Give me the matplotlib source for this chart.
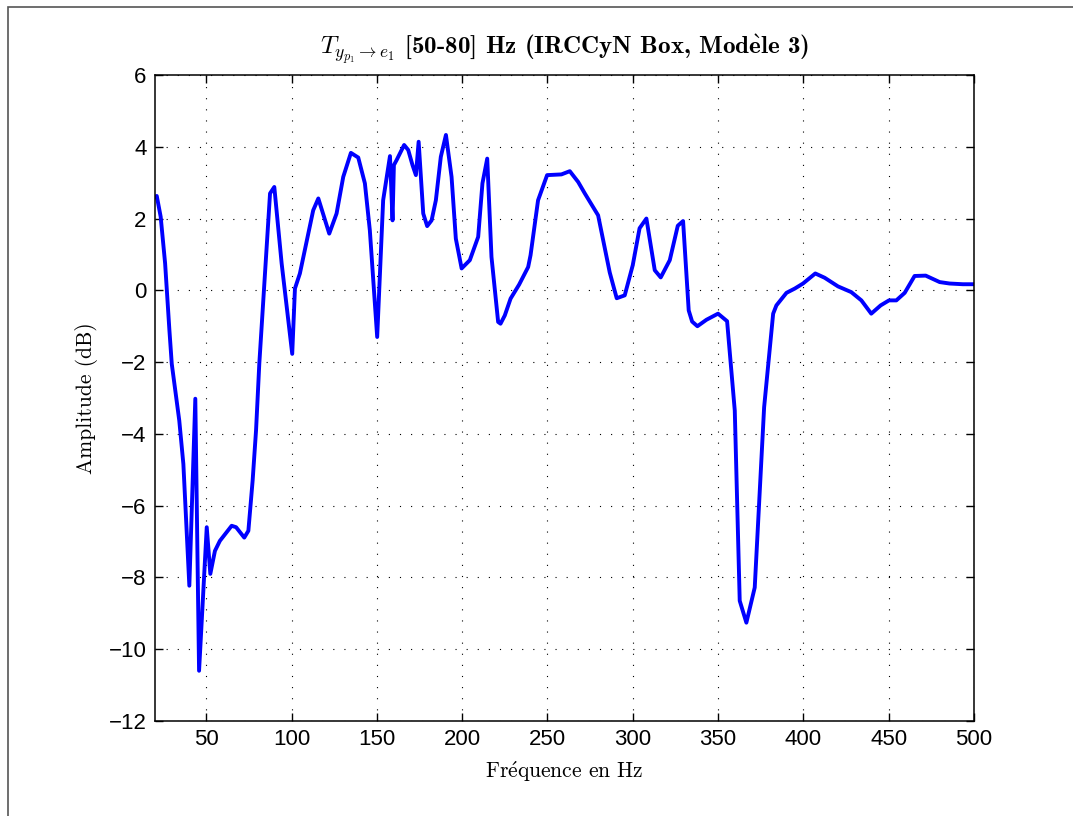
import numpy as np
import matplotlib
matplotlib.use('Agg')
import matplotlib.pyplot as plt
import matplotlib.patches as patches

# Frequency response (Hz, dB)
freq = [20, 21, 23.3, 25.9, 28.4, 29.8, 34.2, 36.6, 40.1, 43.6, 45.8, 50.3,
        52.4, 55.1, 58, 64.9, 67.5, 72.3, 74.7, 77.2, 79.2, 81.1, 87.4,
        89.9, 94.2, 100.4, 102, 104.9, 112.7, 115.7, 122.1,
        126.4, 130.3, 134.8, 139.1, 143, 145.9, 150.2, 153.7, 157.7, 159.2,
        160, 161.6, 166, 168.4, 170.9, 172.9, 174.5, 177.2, 179.5, 182.1,
        184.6, 187.5, 190.5, 193.8, 196.3, 199.7, 204.5, 209.4, 211.9, 214.7,
        217.2, 221.1, 222.5, 225, 228.4, 233.4, 238.7, 240.1, 244.5, 249.8,
        258.2, 263.1, 268, 271.9, 279.7, 286.5, 290.6, 295.3, 300, 304, 308,
        312.9, 316.4, 321.7, 326.4, 329.5, 332.8, 334.8, 337.9, 343.2, 350,
        355.3, 359.8, 362.7, 366.6, 371.5, 377, 382.3, 384.2, 390.1, 395,
        399.8, 407, 412.5, 420.3, 428.1, 434, 439.8, 445.3, 450.2, 454.5,
        459.4, 465.2, 471.7, 479.9, 485.7, 493.5, 500]
amp_db = [2.6, 2.63, 2.05, 0.75, -1.1, -2.05, -3.63, -4.84, -8.23, -3.02,
          -10.6, -6.6, -7.9, -7.26, -6.98, -6.56, -6.6, -6.89, -6.7, -5.3,
          -3.9, -2.05, 2.7, 2.88, 0.75, -1.77, 0.05, 0.47, 2.23, 2.56, 1.58,
          2.14, 3.16, 3.83, 3.7, 2.98, 1.67, -1.3,
          2.51, 3.74, 1.95, 3.49, 3.63, 4.05, 3.91, 3.49, 3.21, 4.14, 2.14,
          1.79, 1.95, 2.51, 3.72, 4.33, 3.16, 1.44, 0.61, 0.84, 1.49, 2.98,
          3.67, 0.93, -0.88, -0.93, -0.7, -0.23, 0.16, 0.65, 0.98, 2.51, 3.21,
          3.23, 3.32, 3.02, 2.7, 2.09, 0.5, -0.22, -0.14, 0.7, 1.73, 2.0, 0.56,
          0.36, 0.84, 1.8, 1.93, -0.56, -0.87, -1.0, -0.82, -0.65, -0.86,
          -3.35, -8.65, -9.26, -8.28, -3.26, -0.65, -0.42, -0.07, 0.05, 0.19,
          0.47, 0.35, 0.11, -0.05, -0.28, -0.65, -0.42, -0.28, -0.28, -0.07,
          0.4, 0.41, 0.23, 0.19, 0.17, 0.17]

x_ticks = [50, 100, 150, 200, 250, 300, 350, 400, 450, 500]
y_ticks = [-12, -10, -8, -6, -4, -2, 0, 2, 4, 6]

plt.rcParams['mathtext.fontset'] = 'cm'
plt.rcParams['axes.unicode_minus'] = True

fig = plt.figure(figsize=(10.73, 8.16), dpi=100)
ax = fig.add_axes([0.1445, 0.1164, 0.7632, 0.7917])

ax.plot(freq, amp_db, color='#0000ff', lw=2.8, solid_joinstyle='round')

ax.set_xlim(20, 500)
ax.set_ylim(-12, 6)
ax.set_xticks(x_ticks)
ax.set_yticks(y_ticks)
for lbl in ax.get_xticklabels() + ax.get_yticklabels():
    lbl.set_family('Liberation Sans')
    lbl.set_fontsize(16)
ax.tick_params(direction='in', length=6, width=1, top=True, right=True, pad=6)
ax.grid(True, color='black', linestyle=(0, (1, 9)), lw=0.8)
for s in ax.spines.values():
    s.set_linewidth(1.1)

ax.set_title(r"$T_{y_{p_1}\rightarrow e_1}$ [50-80] Hz (IRCCyN Box, Mod$\mathbf{\grave{e}}$le 3)",
             family='cmb10', fontsize=18, pad=15)
ax.set_xlabel(r"Fr$\acute{\mathrm{e}}$quence en Hz", family='cmr10', fontsize=15.5, labelpad=6)
ax.set_ylabel("Amplitude (dB)", family='cmr10', fontsize=15.5, labelpad=8)

# thin frame around the figure (only left/top visible in the reference)
fig.patches.append(patches.Rectangle((8 / 1073, -0.1), 1.2, 1.1 - 7 / 816,
                                     transform=fig.transFigure, fill=False,
                                     edgecolor='#555555', lw=1.2))

fig.savefig('out.png', dpi=100)
